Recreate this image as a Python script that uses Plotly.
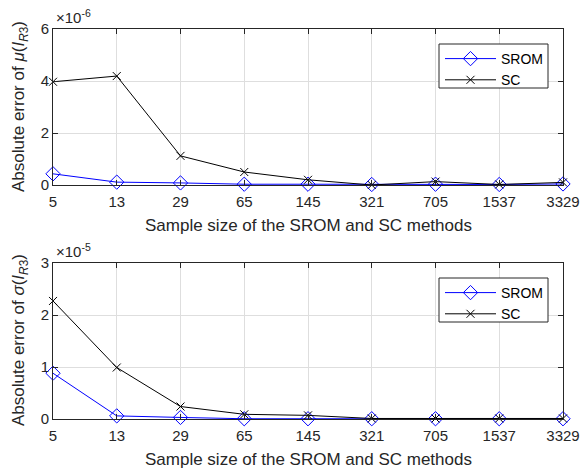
import plotly.graph_objects as go

# ---- data ----
sample_sizes = ["5", "13", "29", "65", "145", "321", "705", "1537", "3329"]
mu_srom = [0.43e-6, 0.11e-6, 0.08e-6, 0.03e-6, 0.03e-6, 0.02e-6, 0.03e-6, 0.02e-6, 0.04e-6]
mu_sc = [3.97e-6, 4.19e-6, 1.12e-6, 0.50e-6, 0.20e-6, 0.00e-6, 0.13e-6, 0.02e-6, 0.10e-6]
sigma_srom = [0.88e-5, 0.06e-5, 0.03e-5, 0.005e-5, 0.005e-5, 0.005e-5, 0.005e-5, 0.005e-5, 0.005e-5]
sigma_sc = [2.27e-5, 0.99e-5, 0.24e-5, 0.09e-5, 0.07e-5, 0.01e-5, 0.01e-5, 0.01e-5, 0.01e-5]
mu_ticks = [0, 2e-6, 4e-6, 6e-6]
mu_ticktext = ["0", "2", "4", "6"]
sigma_ticks = [0, 1e-5, 2e-5, 3e-5]
sigma_ticktext = ["0", "1", "2", "3"]

FONT = "Liberation Sans, Arial, Helvetica, sans-serif"
W, H = 581, 468
BLUE = "#0000FF"
AXC = "#262626"
GRID = "#dedede"

fig = go.Figure()

def add_pair(srom, sc, xa, ya, leg):
    fig.add_trace(go.Scatter(
        x=sample_sizes, y=srom, name="SROM", mode="lines+markers",
        line=dict(color=BLUE, width=1),
        marker=dict(symbol="diamond-open", size=11, color=BLUE, line=dict(width=1, color=BLUE)),
        xaxis=xa, yaxis=ya, legend=leg, cliponaxis=False))
    fig.add_trace(go.Scatter(
        x=sample_sizes, y=sc, name="SC", mode="lines+markers",
        line=dict(color="black", width=1),
        marker=dict(symbol="x-thin-open", size=8, color="black", line=dict(width=1, color="black")),
        xaxis=xa, yaxis=ya, legend=leg, cliponaxis=False))

add_pair(mu_srom, mu_sc, "x", "y", "legend")
add_pair(sigma_srom, sigma_sc, "x2", "y2", "legend2")

x0, x1 = 53 / W, 563 / W
top_dom = [1 - 185 / H, 1 - 29 / H]
bot_dom = [1 - 419 / H, 1 - 263 / H]

axis_common = dict(
    showline=True, linecolor=AXC, linewidth=1, mirror="ticks",
    ticks="inside", ticklen=5, tickcolor=AXC, tickwidth=1,
    showgrid=True, gridcolor=GRID, gridwidth=1, zeroline=False,
    automargin=False,
    tickfont=dict(family=FONT, size=15, color=AXC),
)
xaxis_extra = dict(ticklabelstandoff=3)

legend_common = dict(
    xanchor="left", yanchor="top",
    bgcolor="rgba(0,0,0,0)", borderwidth=0,
    font=dict(family=FONT, size=14, color="black"),
    tracegroupgap=0, itemwidth=51,
)

fig.update_layout(
    width=W, height=H,
    margin=dict(l=0, r=0, t=0, b=0, autoexpand=False),
    paper_bgcolor="white", plot_bgcolor="white",
    font=dict(family=FONT, color=AXC),
    xaxis=dict(domain=[x0, x1], anchor="y", type="category", range=[0, 8], **axis_common, **xaxis_extra),
    yaxis=dict(domain=top_dom, anchor="x", range=[0, 6e-6], tickvals=mu_ticks,
               ticktext=mu_ticktext, **axis_common),
    xaxis2=dict(domain=[x0, x1], anchor="y2", type="category", range=[0, 8], **axis_common, **xaxis_extra),
    yaxis2=dict(domain=bot_dom, anchor="x2", range=[0, 3e-5], tickvals=sigma_ticks,
                ticktext=sigma_ticktext, **axis_common),
    legend=dict(x=440 / W, y=1 - 43 / H, **legend_common),
    legend2=dict(x=440 / W, y=1 - 277 / H, **legend_common),
)

# legend frames (drawn as shapes so their size matches the reference)
for top in (44, 278):
    fig.add_shape(type="rect", xref="paper", yref="paper", layer="above",
                  x0=439 / W, x1=548 / W, y0=1 - (top + 44) / H, y1=1 - top / H,
                  line=dict(color=AXC, width=1), fillcolor="white")

title_font = dict(family=FONT, size=17, color=AXC)
exp_font = dict(family=FONT, size=15, color=AXC)
ann = [
    dict(text="Absolute error of <i>μ</i>(<i>I</i><sub><i>R</i>3</sub>)", x=20 / W, y=1 - 107 / H,
         textangle=-90, font=title_font),
    dict(text="Absolute error of <i>σ</i>(<i>I</i><sub><i>R</i>3</sub>)", x=20 / W, y=1 - 340 / H,
         textangle=-90, font=title_font),
    dict(text="Sample size of the SROM and SC methods", x=(x0 + x1) / 2, y=1 - 225 / H,
         font=title_font),
    dict(text="Sample size of the SROM and SC methods", x=(x0 + x1) / 2, y=1 - 459 / H,
         font=title_font),
    dict(text="×10<sup>-6</sup>", x=54 / W, y=1 - 17 / H, xanchor="left", font=exp_font),
    dict(text="×10<sup>-5</sup>", x=54 / W, y=1 - 250 / H, xanchor="left", font=exp_font),
]
for a in ann:
    a.setdefault("xanchor", "center")
    a.setdefault("yanchor", "middle")
    fig.add_annotation(xref="paper", yref="paper", showarrow=False, **a)

fig.write_html("out.html", config={"displayModeBar": False},
               post_script="document.body.style.margin='0';document.body.style.padding='0';")
